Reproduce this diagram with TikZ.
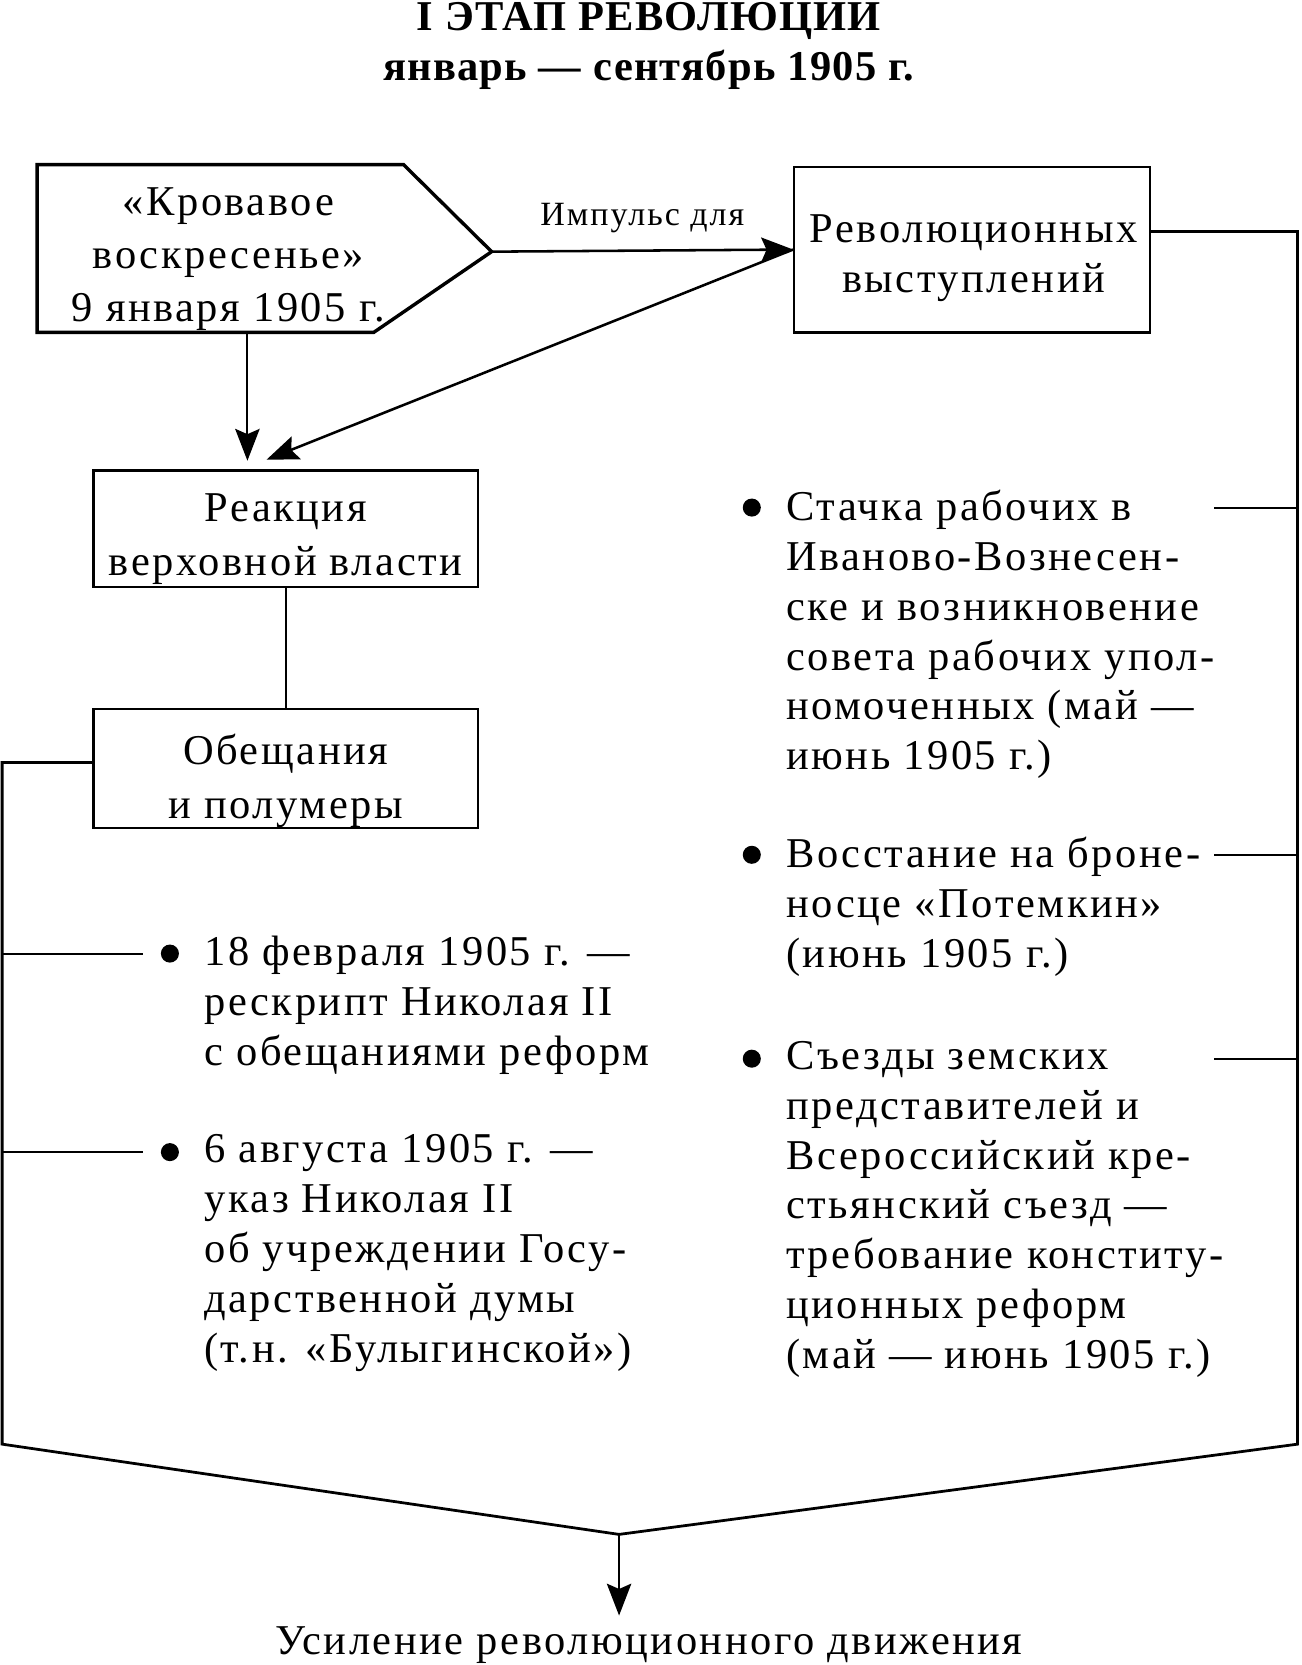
\documentclass[tikz,border=0pt]{standalone}
\usepackage{fontspec}
\setmainfont[LetterSpace=6]{Liberation Serif}
\usetikzlibrary{arrows.meta,calc,positioning}

\tikzset{
	txt/.style    = {font=\fontsize{20}{23.5}\selectfont, inner sep=0pt},
	blok/.style   = {draw, line width=1.1pt, inner sep=0pt},
	bloktxt/.style= {txt, font=\fontsize{20}{25.5}\selectfont, align=center},
	punkt/.style  = {txt, align=left, anchor=north west},
	tochka/.style = {circle, fill=black, inner sep=0pt, minimum size=8.5pt},
	nakon/.style  = {-{Stealth[length=15pt,width=11.5pt,inset=2.5pt]}},
	strelka/.style= {line width=1.2pt, nakon},
	liniya/.style = {line width=1pt},
	shina/.style  = {line width=1.3pt, line join=miter}
}

\begin{document}
\begin{tikzpicture}[x=0.5pt,y=-0.5pt]
\useasboundingbox (0,0) rectangle (1226,1568);

%%%%%%%%%%%%%%%%%%%%%%%%%%%%%%%%%%%%%%%%%%%%%%%% 	ЗАГОЛОВОК
\node[txt, font=\fontsize{20}{23.5}\selectfont\bfseries\addfontfeatures{LetterSpace=3}, align=center, anchor=north]
	(zagol) at (611,2) {I ЭТАП РЕВОЛЮЦИИ\\январь — сентябрь 1905 г.};

%%%%%%%%%%%%%%%%%%%%%%%%%%%%%%%%%%%%%%%%%%%%%%%% 	КРОВАВОЕ ВОСКРЕСЕНЬЕ
\draw[line width=1.6pt, line join=miter]
	(35,155) -- (380,155) -- (463,237) -- (352,313) -- (35,313) -- cycle;	%%%% пятиугольник
\coordinate (ostrie) at (463,237);
\coordinate (niz) at (233,313);
\node[txt, font=\fontsize{20}{25}\selectfont, align=center] (krov) at (215,244) {«Кровавое\\воскресенье»\\9 января 1905 г.};

%%%%%%%%%%%%%%%%%%%%%%%%%%%%%%%%%%%%%%%%%%%%%%%% 	БЛОКИ
\node[blok, minimum width=167.5pt, minimum height=78pt] (revol) at (915.5,235) {};
\node[bloktxt, font=\fontsize{20}{23.5}\selectfont] at (917,243) {Революционных\\выступлений};
\node[blok, minimum width=181pt, minimum height=55pt] (reakc) at (269,498) {};
\node[bloktxt] at (269,508) {Реакция\\верховной власти};
\node[blok, minimum width=181pt, minimum height=56pt] (obesch) at (269,724) {};
\node[bloktxt] at (269,735) {Обещания\\и полумеры};

%%%%%%%%%%%%%%%%%%%%%%%%%%%%%%%%%%%%%%%%%%%%%%%% 	СТРЕЛКИ
\draw[strelka] (ostrie) -- (revol.west) node[midway, above=8pt, txt, font=\fontsize{16}{18}\selectfont] (impuls) {Импульс для};
\draw[strelka] (revol.west) -- ([xshift=-9pt, yshift=4.5pt]reakc.north);
\draw[liniya, nakon] (niz) -- ([yshift=4pt]niz |- reakc.north);
\draw[liniya] (reakc) -- (obesch);

%%%%%%%%%%%%%%%%%%%%%%%%%%%%%%%%%%%%%%%%%%%%%%%% 	ПУНКТЫ СПРАВА
\node[tochka] (t1) at (708,478) {};
\node[punkt] (p1) at (740,461) {Стачка рабочих в\\Иваново-Вознесен-\\ске и возникновение\\совета рабочих упол-\\номоченных (май —\\июнь 1905 г.)};
\node[tochka] (t2) at (708,805) {};
\node[punkt] (p2) at (740,788) {Восстание на броне-\\носце «Потемкин»\\(июнь 1905 г.)};
\node[tochka] (t3) at (708,997) {};
\node[punkt] (p3) at (740,980) {Съезды земских\\представителей и\\Всероссийский кре-\\стьянский съезд —\\требование конститу-\\ционных реформ\\(май — июнь 1905 г.)};

%%%%%%%%%%%%%%%%%%%%%%%%%%%%%%%%%%%%%%%%%%%%%%%% 	ПУНКТЫ СЛЕВА
\node[tochka] (t4) at (160,898) {};
\node[punkt] (p4) at (192,881) {18 февраля 1905 г. —\\рескрипт Николая II\\с обещаниями реформ};
\node[tochka] (t5) at (160,1085) {};
\node[punkt] (p5) at (192,1068) {6 августа 1905 г. —\\указ Николая II\\об учреждении Госу-\\дарственной думы\\(т.н. «Булыгинской»)};

%%%%%%%%%%%%%%%%%%%%%%%%%%%%%%%%%%%%%%%%%%%%%%%% 	ШИНЫ
\coordinate (pv) at (1222,218);		%%%% правый верх
\coordinate (pn) at (1222,1360);	%%%% правый низ
\coordinate (lv) at (2,718);		%%%% левый верх
\coordinate (ln) at (2,1360);		%%%% левый низ
\coordinate (ugol) at (583,1445);	%%%% вершина
\draw[shina] (revol.east |- pv) -- (pv) -- (pn) -- (ugol) -- (ln) -- (lv) -- (obesch.west |- lv);

\draw[liniya] (pv |- t1) -- (1143,478);
\draw[liniya] (pv |- t2) -- (1143,805);
\draw[liniya] (pv |- t3) -- (1143,997);
\draw[liniya] (lv |- t4) -- ([xshift=-8pt]t4.west);
\draw[liniya] (lv |- t5) -- ([xshift=-8pt]t5.west);

%%%%%%%%%%%%%%%%%%%%%%%%%%%%%%%%%%%%%%%%%%%%%%%% 	ИТОГ
\node[txt, anchor=base] (usil) at (611,1558) {Усиление революционного движения};
\draw[liniya, nakon] (ugol) -- ([yshift=5pt]ugol |- usil.north);

\end{tikzpicture}
\end{document}
